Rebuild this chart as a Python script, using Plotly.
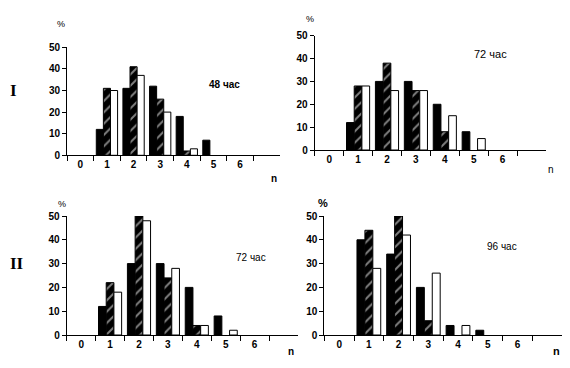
import plotly.graph_objects as go

categories = ["0", "1", "2", "3", "4", "5", "6", "\u200b"]

p1_black = [None, 12, 31, 32, 18, 7, None, None]
p1_hatch = [None, 31, 41, 26, 2, None, None, None]
p1_white = [None, 30, 37, 20, 3, None, None, None]

p2_black = [None, 12, 30, 30, 20, 8, None, None]
p2_hatch = [None, 28, 38, 26, 8, None, None, None]
p2_white = [None, 28, 26, 26, 15, 5, None, None]

p3_black = [None, 12, 30, 30, 20, 8, None, None]
p3_hatch = [None, 22, 50, 24, 4, None, None, None]
p3_white = [None, 18, 48, 28, 4, 2, None, None]

p4_black = [None, 40, 34, 20, 4, 2, None, None]
p4_hatch = [None, 44, 50, 6, None, None, None, None]
p4_white = [None, 28, 42, 26, 4, None, None, None]

panels = [
    (p1_black, p1_hatch, p1_white),
    (p2_black, p2_hatch, p2_white),
    (p3_black, p3_hatch, p3_white),
    (p4_black, p4_hatch, p4_white),
]

W, H = 570, 368
boxes = [
    (67, 280, 47.3, 155.3),
    (314.7, 546, 35.7, 150),
    (66.7, 298, 216, 335),
    (324.3, 562, 216, 335),
]

fig = go.Figure()
FONT = "Liberation Sans, Arial, sans-serif"

for i, (blk, hat, wht) in enumerate(panels):
    s = "" if i == 0 else str(i + 1)
    xa, ya = "x" + s, "y" + s
    fig.add_trace(go.Bar(x=categories, y=blk, xaxis=xa, yaxis=ya, showlegend=False,
                         marker=dict(color="black", line=dict(color="black", width=1))))
    fig.add_trace(go.Bar(x=categories, y=hat, xaxis=xa, yaxis=ya, showlegend=False,
                         marker=dict(color="black", line=dict(color="black", width=1),
                                     pattern=dict(shape="/", bgcolor="black", fgcolor="white",
                                                  size=8, solidity=0.25))))
    fig.add_trace(go.Bar(x=categories, y=wht, xaxis=xa, yaxis=ya, showlegend=False,
                         marker=dict(color="white", line=dict(color="black", width=1))))
    l, r, t, b = boxes[i]
    fig.layout["xaxis" + s] = dict(
        type="category", categoryorder="array", categoryarray=categories,
        domain=[l / W, r / W], anchor=ya, range=[-0.5, 7.5], automargin=False,
        tickmode="linear", tick0=0, dtick=1,
        ticks="outside", ticklen=5, tickcolor="black", tickwidth=1, tickson="boundaries",
        showline=True, linecolor="black", linewidth=1, showgrid=False, zeroline=False,
        tickfont=dict(family=FONT, size=10, color="black", weight="bold"),
        fixedrange=True,
    )
    fig.layout["yaxis" + s] = dict(
        domain=[1 - b / H, 1 - t / H], anchor=xa, range=[0, 50], automargin=False,
        tickmode="array", tickvals=[0, 10, 20, 30, 40, 50], ticks="outside", ticklen=4,
        tickcolor="black", showline=True, linecolor="black", linewidth=1,
        showgrid=False, zeroline=False,
        tickfont=dict(family=FONT, size=10, color="black", weight="bold"),
        fixedrange=True,
    )

ann = []
def txt(x, y, t, size=10, bold=True, family=FONT):
    ann.append(dict(x=x / W, y=1 - y / H, xref="paper", yref="paper", text=t, showarrow=False,
                    xanchor="center", yanchor="middle",
                    font=dict(family=family, size=size, color="black",
                              weight="bold" if bold else "normal")))

txt(13, 91, "I", 17, True, "Liberation Serif, Times New Roman, serif")
txt(17, 263, "II", 17, True, "Liberation Serif, Times New Roman, serif")
txt(61, 24, "%", 9, False)
txt(310, 19, "%", 9, False)
txt(62, 204, "%", 9, False)
txt(323, 203, "%", 11, True)
txt(224, 85, "48 час", 10, True)
txt(490, 54, "72 час", 11, False)
txt(251, 257, "72 час", 10, False)
txt(502, 246, "96 час", 10, False)
txt(274, 178, "n", 10, True)
txt(551, 170, "n", 10, False)
txt(291, 351, "n", 10, True)
txt(556, 351, "n", 11, True)

fig.update_layout(
    width=W, height=H, margin=dict(l=0, r=0, t=0, b=0),
    paper_bgcolor="white", plot_bgcolor="white",
    barmode="group", bargap=0.2, bargroupgap=0,
    annotations=ann,
)

fig.write_html("out.html", config={"displayModeBar": False},
               post_script="document.body.style.margin='0';")
